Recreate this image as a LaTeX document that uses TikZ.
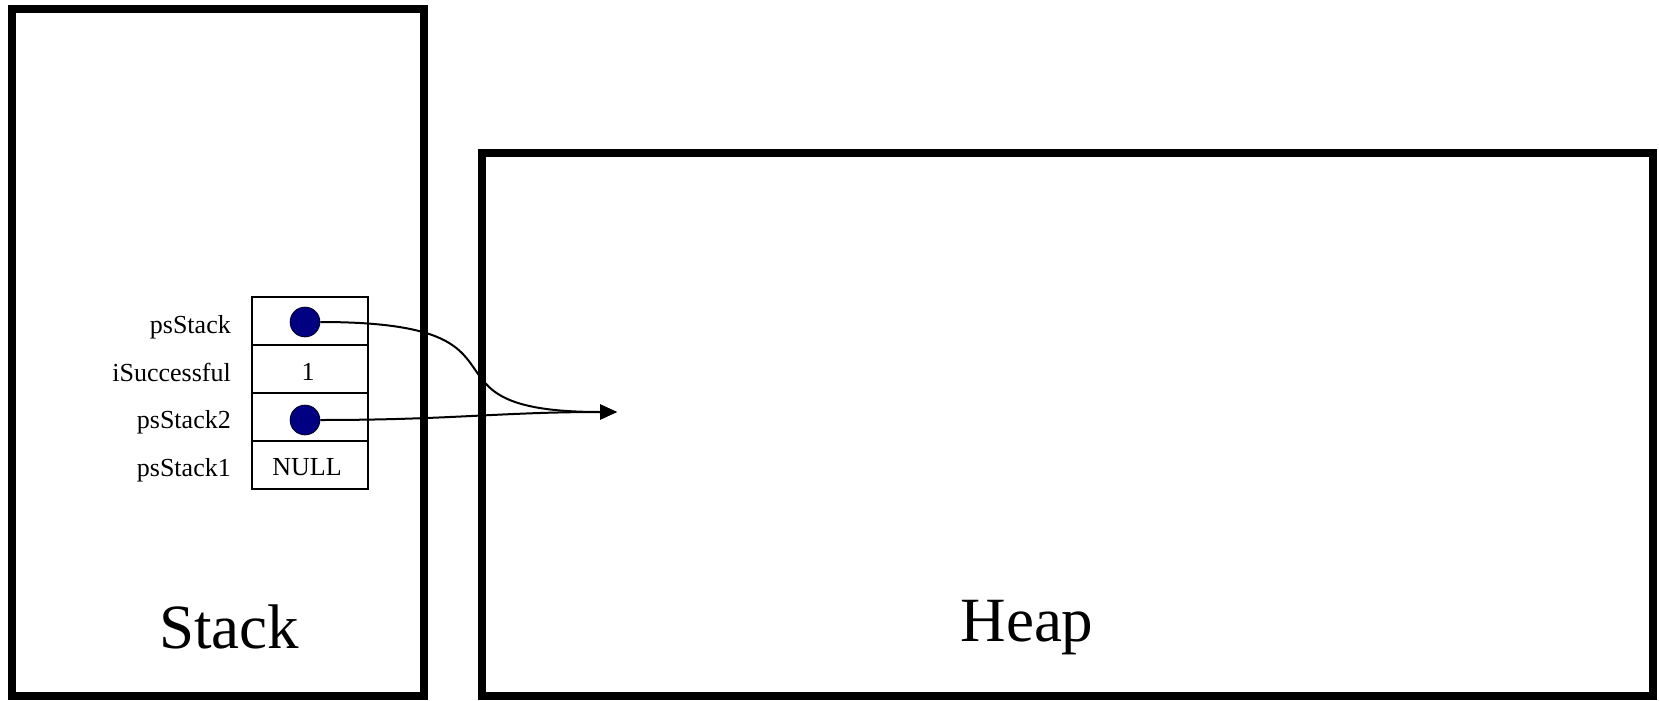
\documentclass[tikz,border=0pt]{standalone}
\usepackage{fontspec}
\setmainfont{Liberation Serif}
\usetikzlibrary{arrows.meta}
\definecolor{dotblue}{RGB}{0,0,128}
\begin{document}
\begin{tikzpicture}[x=1pt,y=-1pt,
  frame/.style={draw=black,line width=8pt,inner sep=0pt,outer sep=0pt},
  cell/.style={draw=black,line width=2pt,minimum width=116pt,minimum height=48pt,inner sep=0pt,outer sep=0pt},
  lbl/.style={font=\fontsize{26}{30}\selectfont,inner sep=0pt,anchor=base east},
  val/.style={font=\fontsize{26}{30}\selectfont,inner sep=0pt,anchor=base},
  title/.style={font=\fontsize{63}{70}\selectfont,inner sep=0pt,anchor=base},
  ptr/.style={circle,fill=dotblue,draw=black,line width=0.6pt,minimum size=30pt,inner sep=0pt},
  link/.style={line width=2pt,-{Triangle[length=17pt,width=15pt]}}]
\useasboundingbox (0,0) rectangle (1659,701);
\node[frame,minimum width=412pt,minimum height=687pt] (stack) at (218,352.5) {};
\node[frame,minimum width=1171pt,minimum height=543pt] (heap) at (1067.5,424.5) {};
\node[title] (stacktitle) at (229,648) {Stack};
\node[title] (heaptitle) at (1027,641) {Heap};
\node[cell] (c1) at (310,321) {};
\node[cell] (c2) at (310,369) {};
\node[cell] (c3) at (310,417) {};
\node[cell] (c4) at (310,465) {};
\node[lbl] (l1) at (231,333) {psStack};
\node[lbl] (l2) at (231,381) {iSuccessful};
\node[lbl] (l3) at (231,428) {psStack2};
\node[lbl] (l4) at (231,476) {psStack1};
\node[val] (v2) at (308,380) {1};
\node[val] (v4) at (307,475) {NULL};
\node[ptr] (p1) at (305,322) {};
\node[ptr] (p3) at (305,420) {};
\coordinate (target) at (617,412);
\draw[link] (p1.east) .. controls (555,322) and (400,412) .. (target);
\draw[link] (p3.east) .. controls (450,420) and (500,412) .. (target);
\end{tikzpicture}
\end{document}
